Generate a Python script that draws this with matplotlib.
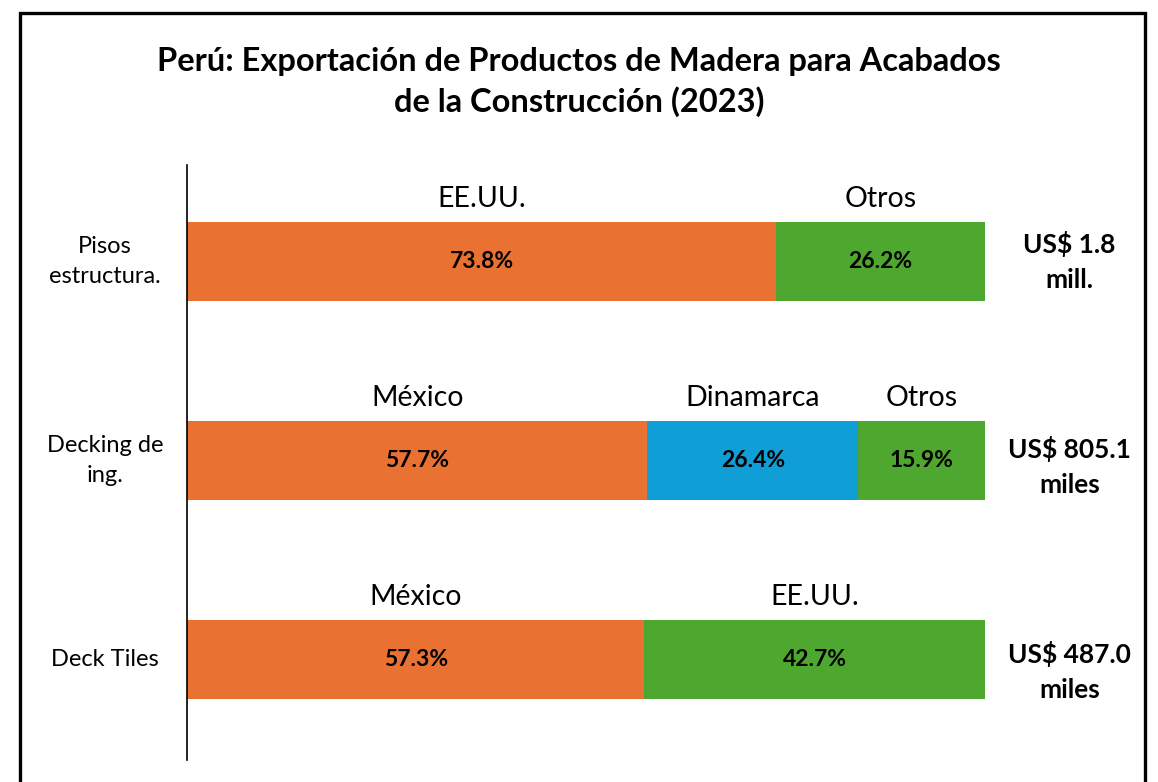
import matplotlib
matplotlib.use("Agg")
import matplotlib.pyplot as plt
from matplotlib.patches import Rectangle
import matplotlib.transforms as mtransforms

plt.rcParams['font.family'] = ['Lato', 'DejaVu Sans']

# === Data ===
categories = ["Pisos\nestructura.", "Decking de\ning.", "Deck Tiles"]
totals = ["US$ 1.8\nmill.", "US$ 805.1\nmiles", "US$ 487.0\nmiles"]

pisos_names = ["EE.UU.", "Otros"]
pisos_shares = [73.8, 26.2]
decking_names = ["México", "Dinamarca", "Otros"]
decking_shares = [57.7, 26.4, 15.9]
tiles_names = ["México", "EE.UU."]
tiles_shares = [57.3, 42.7]

rows = [(pisos_names, pisos_shares), (decking_names, decking_shares), (tiles_names, tiles_shares)]

ORANGE = "#E97132"
BLUE = "#0F9ED5"
GREEN = "#4EA72E"
name_colors = {
    0: [ORANGE, GREEN],
    1: [ORANGE, BLUE, GREEN],
    2: [ORANGE, GREEN],
}

# === Figure ===
fig = plt.figure(figsize=(11.58, 7.82), dpi=100)
ax = fig.add_axes([187 / 1158, 22 / 782, 798 / 1158, 595 / 782])

bar_h = 0.40
for i, (names, shares) in enumerate(rows):
    left = 0
    for j, (nm, sh) in enumerate(zip(names, shares)):
        ax.barh(i, sh, left=left, height=bar_h, color=name_colors[i][j], edgecolor="none")
        cx = left + sh / 2
        ax.text(cx, i, f"{sh:.1f}%", ha="center", va="center",
                fontsize=16.5, fontweight="bold", color="black")
        ax.text(cx, i - bar_h / 2 - 0.115, nm, ha="center", va="center",
                fontsize=20.5, color="black")
        left += sh

ax.set_xlim(0, 100)
ax.set_ylim(2.505, -0.485)

for s in ["top", "right", "bottom"]:
    ax.spines[s].set_visible(False)
ax.spines["left"].set_linewidth(1.2)
ax.set_xticks([])
ax.set_yticks([])

trans = mtransforms.blended_transform_factory(ax.transAxes, ax.transData)
for i, (cat, tot) in enumerate(zip(categories, totals)):
    ax.text(-0.103, i, cat, transform=trans, ha="center", va="center",
            fontsize=17, linespacing=1.55)
    ax.text(1.106, i + 0.03 * i, tot, transform=trans, ha="center", va="center",
            fontsize=19, fontweight="bold", linespacing=1.55)

fig.text(0.5, 1 - 82 / 782,
         "Perú: Exportación de Productos de Madera para Acabados\nde la Construcción (2023)",
         ha="center", va="center", fontsize=23.5, fontweight="bold", linespacing=1.4)

# black frame around the chart
fig.patches.append(Rectangle((20 / 1158, -0.05), 1125 / 1158, 1.05 - 13 / 782,
                             transform=fig.transFigure, fill=False,
                             edgecolor="black", linewidth=2.4))

fig.savefig("out.png", dpi=100)
